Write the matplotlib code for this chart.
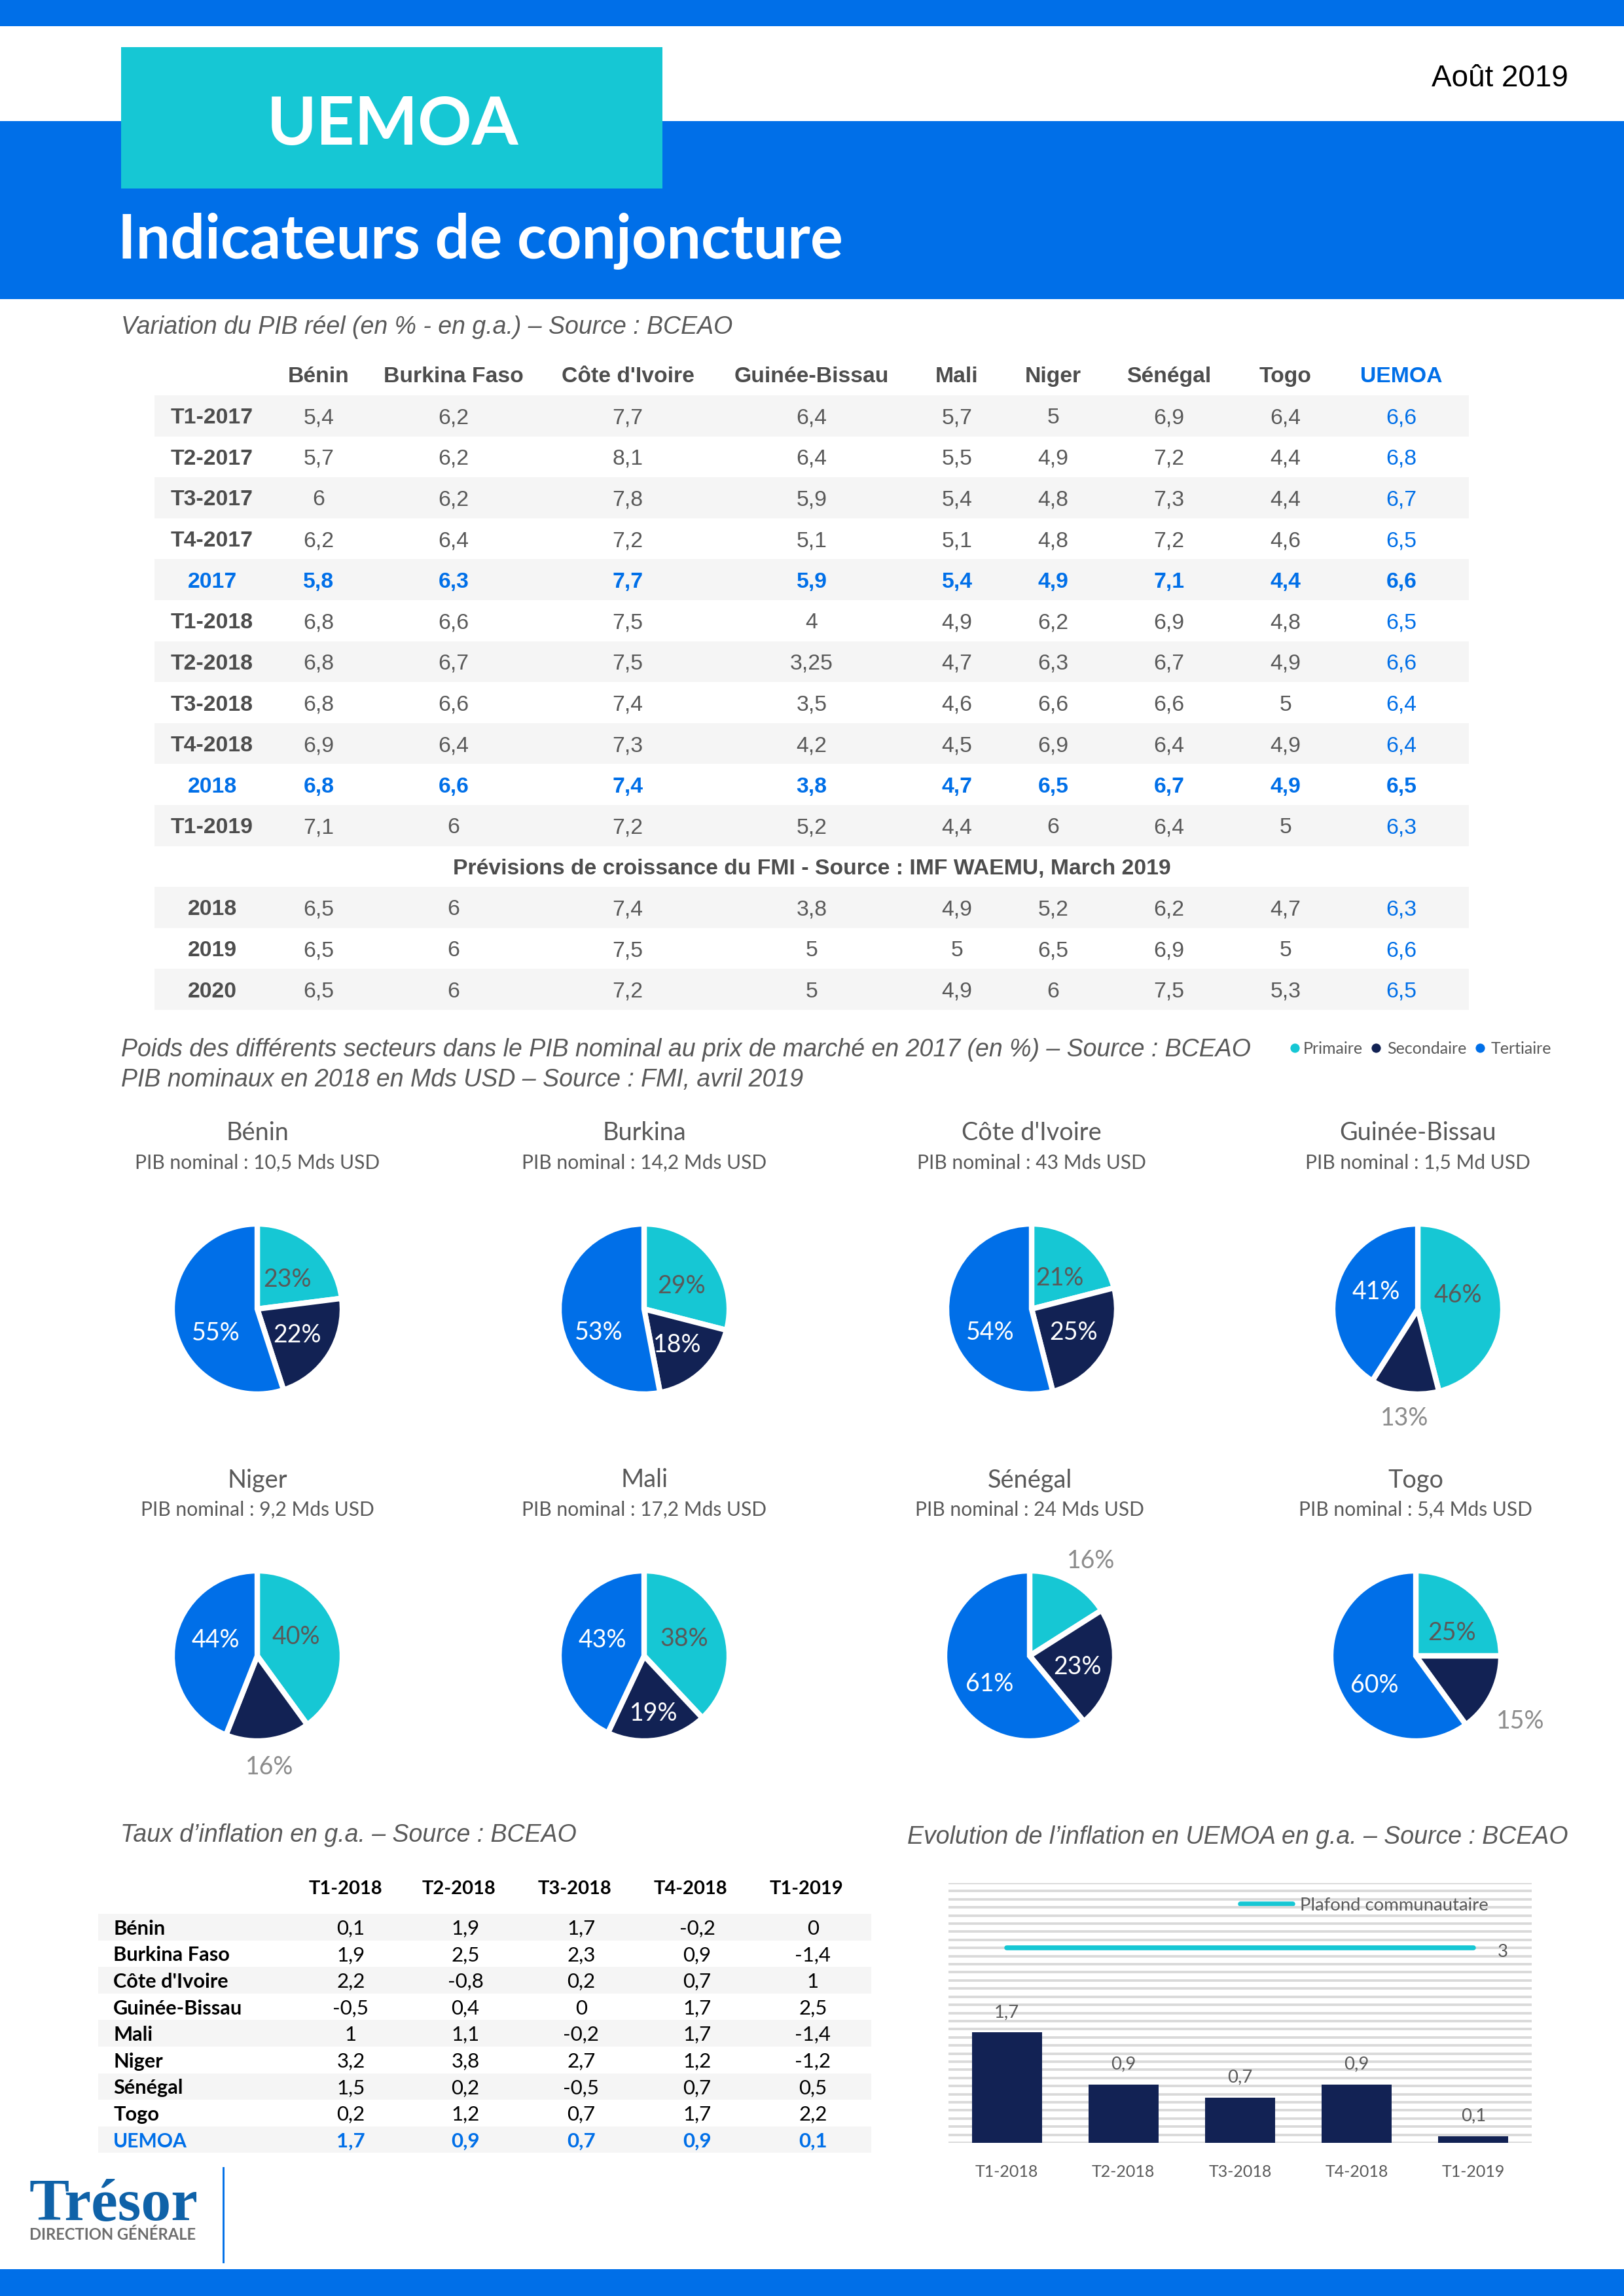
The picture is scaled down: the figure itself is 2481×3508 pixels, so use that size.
import numpy as np
import matplotlib
matplotlib.use('Agg')
import matplotlib.pyplot as plt
from matplotlib.patches import Rectangle

W, H = 2481, 3508
BLUE = '#006FE8'
TEAL = '#16C7D4'
NAVY = '#122254'
GREY = '#595959'
DARK = '#4D4D4D'
BAND = '#F5F5F5'
ARIAL = 'Liberation Sans'
CALIBRI = 'Lato'

# GDP table
countries = ['Bénin', 'Burkina Faso', "Côte d'Ivoire", 'Guinée-Bissau', 'Mali', 'Niger', 'Sénégal', 'Togo', 'UEMOA']
gdp_labels = ['T1-2017', 'T2-2017', 'T3-2017', 'T4-2017', '2017', 'T1-2018', 'T2-2018', 'T3-2018', 'T4-2018', '2018', 'T1-2019']
gdp_values = [
    [5.4, 6.2, 7.7, 6.4, 5.7, 5, 6.9, 6.4, 6.6],
    [5.7, 6.2, 8.1, 6.4, 5.5, 4.9, 7.2, 4.4, 6.8],
    [6, 6.2, 7.8, 5.9, 5.4, 4.8, 7.3, 4.4, 6.7],
    [6.2, 6.4, 7.2, 5.1, 5.1, 4.8, 7.2, 4.6, 6.5],
    [5.8, 6.3, 7.7, 5.9, 5.4, 4.9, 7.1, 4.4, 6.6],
    [6.8, 6.6, 7.5, 4, 4.9, 6.2, 6.9, 4.8, 6.5],
    [6.8, 6.7, 7.5, 3.25, 4.7, 6.3, 6.7, 4.9, 6.6],
    [6.8, 6.6, 7.4, 3.5, 4.6, 6.6, 6.6, 5, 6.4],
    [6.9, 6.4, 7.3, 4.2, 4.5, 6.9, 6.4, 4.9, 6.4],
    [6.8, 6.6, 7.4, 3.8, 4.7, 6.5, 6.7, 4.9, 6.5],
    [7.1, 6, 7.2, 5.2, 4.4, 6, 6.4, 5, 6.3],
]
imf_labels = ['2018', '2019', '2020']
imf_values = [
    [6.5, 6, 7.4, 3.8, 4.9, 5.2, 6.2, 4.7, 6.3],
    [6.5, 6, 7.5, 5, 5, 6.5, 6.9, 5, 6.6],
    [6.5, 6, 7.2, 5, 4.9, 6, 7.5, 5.3, 6.5],
]

# sector pies
pie_names = ['Bénin', 'Burkina', "Côte d'Ivoire", 'Guinée-Bissau', 'Niger', 'Mali', 'Sénégal', 'Togo']
pie_gdp = ['10,5 Mds USD', '14,2 Mds USD', '43 Mds USD', '1,5 Md USD', '9,2 Mds USD', '17,2 Mds USD', '24 Mds USD', '5,4 Mds USD']
primaire = [23, 29, 21, 46, 40, 38, 16, 25]
secondaire = [22, 18, 25, 13, 16, 19, 23, 15]
tertiaire = [55, 53, 54, 41, 44, 43, 61, 60]

# inflation
infl_quarters = ['T1-2018', 'T2-2018', 'T3-2018', 'T4-2018', 'T1-2019']
infl_countries = ['Bénin', 'Burkina Faso', "Côte d'Ivoire", 'Guinée-Bissau', 'Mali', 'Niger', 'Sénégal', 'Togo', 'UEMOA']
infl_values = [
    [0.1, 1.9, 1.7, -0.2, 0],
    [1.9, 2.5, 2.3, 0.9, -1.4],
    [2.2, -0.8, 0.2, 0.7, 1],
    [-0.5, 0.4, 0, 1.7, 2.5],
    [1, 1.1, -0.2, 1.7, -1.4],
    [3.2, 3.8, 2.7, 1.2, -1.2],
    [1.5, 0.2, -0.5, 0.7, 0.5],
    [0.2, 1.2, 0.7, 1.7, 2.2],
    [1.7, 0.9, 0.7, 0.9, 0.1],
]
uemoa_infl = [1.7, 0.9, 0.7, 0.9, 0.1]
plafond = [3, 3, 3, 3, 3]


def fr(v):
    return f'{v:g}'.replace('.', ',')


fig = plt.figure(figsize=(W / 300, H / 300), dpi=300, facecolor='w')
page = fig.add_axes([0, 0, 1, 1])
page.set_xlim(0, W)
page.set_ylim(H, 0)
page.axis('off')


def box(x0, y0, x1, y1, color):
    page.add_patch(Rectangle((x0, y0), x1 - x0, y1 - y0, facecolor=color, edgecolor='none'))


def txt(x, y, s, size, color=GREY, family=ARIAL, ha='center', weight='normal', style='normal'):
    page.text(x, y, s, fontsize=size, color=color, family=family, ha=ha, va='center_baseline',
              fontweight=weight, fontstyle=style)


# header
box(0, 0, W, 40, BLUE)
box(0, 185, W, 457, BLUE)
box(0, 3467, W, H, BLUE)
box(185, 72, 1012, 288, TEAL)
txt(600, 183, 'UEMOA', 24.5, 'w', CALIBRI, weight='bold')
txt(180, 360, 'Indicateurs de conjoncture', 22.4, 'w', CALIBRI, ha='left', weight='bold')
txt(2396, 115, 'Août 2019', 11, 'k', ha='right')

# GDP table
txt(185, 496, 'Variation du PIB réel (en % - en g.a.) – Source : BCEAO', 9.0, ha='left', style='italic')
col_x = [487, 693, 959, 1240, 1462, 1609, 1786, 1964, 2141]
row_h = 62.6
y0 = 604
for i, c in enumerate(countries):
    txt(col_x[i], 572, c, 8.1, BLUE if c == 'UEMOA' else DARK, weight='bold')


def gdp_row(k, label, vals):
    yc = y0 + row_h * (k + 0.5)
    if k % 2 == 0:
        box(236, yc - row_h / 2, 2244, yc + row_h / 2, BAND)
    bold = label in ('2017', '2018') and k < 11
    txt(324, yc, label, 8.1, BLUE if bold else DARK, weight='bold')
    for j, v in enumerate(vals):
        blue = bold or j == 8
        txt(col_x[j], yc, fr(v), 8.1, BLUE if blue else GREY, weight='bold' if bold else 'normal')


for k, (lab, vals) in enumerate(zip(gdp_labels, gdp_values)):
    gdp_row(k, lab, vals)
txt(1240, y0 + row_h * 11.5, 'Prévisions de croissance du FMI - Source : IMF WAEMU, March 2019', 8.1, DARK, weight='bold')
for k, (lab, vals) in enumerate(zip(imf_labels, imf_values)):
    gdp_row(k + 12, lab, vals)

# pies section
txt(185, 1600, 'Poids des différents secteurs dans le PIB nominal au prix de marché en 2017 (en %) – Source : BCEAO',
    9.0, ha='left', style='italic')
txt(185, 1646, 'PIB nominaux en 2018 en Mds USD – Source : FMI, avril 2019', 9.0, ha='left', style='italic')
for mx, tx, c, s in [(1978, 1991, TEAL, 'Primaire'), (2102, 2119, NAVY, 'Secondaire'), (2261, 2278, BLUE, 'Tertiaire')]:
    page.plot([mx], [1601], 'o', ms=3.4, color=c, mec='none')
    txt(tx, 1601, s, 6, GREY, CALIBRI, ha='left')

pie_cx = [393, 984, 1576, 2166, 393, 984, 1573, 2163]
pie_cy = [2000, 2000, 2000, 2000, 2530, 2530, 2530, 2530]
pie_r = 130
# label positions in radius units, one (x, y) per slice
label_pos = [
    [(.35, .37), (.47, -.28), (-.49, -.26)],
    [(.44, .30), (.39, -.40), (-.53, -.25)],
    [(.33, .39), (.49, -.25), (-.49, -.25)],
    [(.47, .19), (-.16, -1.26), (-.49, .23)],
    [(.46, .25), (.14, -1.28), (-.49, .21)],
    [(.47, .23), (.11, -.65), (-.49, .21)],
    [(.72, 1.14), (.56, -.10), (-.47, -.30)],
    [(.42, .30), (1.23, -.74), (-.49, -.32)],
]
for i in range(8):
    cx, cy = pie_cx[i], pie_cy[i]
    half = pie_r * 1.6
    ax = fig.add_axes([(cx - half) / W, 1 - (cy + half) / H, 2 * half / W, 2 * half / H])
    vals = [primaire[i], secondaire[i], tertiaire[i]]
    ax.pie(vals, colors=[TEAL, NAVY, BLUE], startangle=90, counterclock=False, radius=1,
           wedgeprops={'edgecolor': 'w', 'linewidth': 2.0})
    ax.set_xlim(-1.6, 1.6)
    ax.set_ylim(-1.6, 1.6)
    for j, (v, (lx, ly)) in enumerate(zip(vals, label_pos[i])):
        outside = np.hypot(lx, ly) > 1
        if outside:
            col = '#8C8C8C'
        elif j == 0:
            col = GREY
        else:
            col = 'w'
        ax.text(lx, ly, f'{v}%', ha='center', va='center_baseline', fontsize=9, color=col, family=CALIBRI)
    txt(cx, cy - 272, pie_names[i], 9.1, GREY, CALIBRI)
    txt(cx, cy - 226, 'PIB nominal : ' + pie_gdp[i], 7.2, GREY, CALIBRI)

# inflation table
txt(184, 2800, 'Taux d’inflation en g.a. – Source : BCEAO', 9.0, ha='left', style='italic')
txt(1386, 2803, 'Evolution de l’inflation en UEMOA en g.a. – Source : BCEAO', 9.0, ha='left', style='italic')
head_x = [528, 701, 878, 1055, 1232]
val_x = [536, 711, 888, 1065, 1242]
for x, q in zip(head_x, infl_quarters):
    txt(x, 2883, q, 7.0, 'k', CALIBRI, weight='bold')
infl_h = 40.6
for k, (c, vals) in enumerate(zip(infl_countries, infl_values)):
    yc = 2924 + infl_h * (k + 0.5)
    if k % 2 == 0:
        box(150, yc - infl_h / 2, 1331, yc + infl_h / 2, BAND)
    last = c == 'UEMOA'
    txt(173, yc, c, 7.2 if last else 7.4, BLUE if last else 'k', CALIBRI, ha='left', weight='bold')
    for x, v in zip(val_x, vals):
        txt(x, yc, fr(v), 7.5, BLUE if last else 'k', CALIBRI, weight='bold' if last else 'normal')

# logo
txt(45, 3360, 'Trésor', 22, '#0F62A8', 'Liberation Serif', ha='left', weight='bold')
txt(45, 3413, 'DIRECTION GÉNÉRALE', 5.7, '#6E6E6E', CALIBRI, ha='left', weight='bold')
page.plot([341, 341], [3312, 3456], color=BLUE, lw=0.7)

# inflation bars
x0b, x1b, ytop, ybot = 1449, 2340, 2877, 3274
axb = fig.add_axes([x0b / W, 1 - ybot / H, (x1b - x0b) / W, (ybot - ytop) / H])
axb.patch.set_alpha(0)
xs = np.arange(len(infl_quarters))
axb.bar(xs, uemoa_infl, width=0.6, color=NAVY, zorder=3)
axb.plot(xs, plafond, color=TEAL, lw=1.8, solid_capstyle='round', zorder=3)
axb.set_xlim(-0.5, 4.5)
axb.set_ylim(0, 4)
axb.set_yticks(np.arange(0, 4.01, 0.125))
axb.set_yticklabels([])
axb.set_xticks(xs)
axb.set_xticklabels(infl_quarters, fontsize=6.0, color=GREY, family=CALIBRI)
axb.tick_params(length=0, pad=8)
axb.grid(axis='y', color='#D9D9D9', lw=0.9, zorder=0)
axb.set_axisbelow(True)
for s in axb.spines.values():
    s.set_visible(False)
for x, v in zip(xs, uemoa_infl):
    axb.annotate(fr(v), (x, v), xytext=(0, 8), textcoords='offset points', ha='center', va='center_baseline',
                 fontsize=6.6, color=GREY, family=CALIBRI)
axb.annotate('3', (4, 3), xytext=(10.7, -1), textcoords='offset points', ha='center', va='center_baseline',
             fontsize=6.6, color=GREY, family=CALIBRI)
page.plot([1895, 1975], [2909, 2909], color=TEAL, lw=1.8, solid_capstyle='round', zorder=5)
axb.text(1986, 2909, 'Plafond communautaire', transform=page.transData, fontsize=6.6, color=GREY,
         family=CALIBRI, ha='left', va='center_baseline')

fig.savefig('out.png', dpi=300)
